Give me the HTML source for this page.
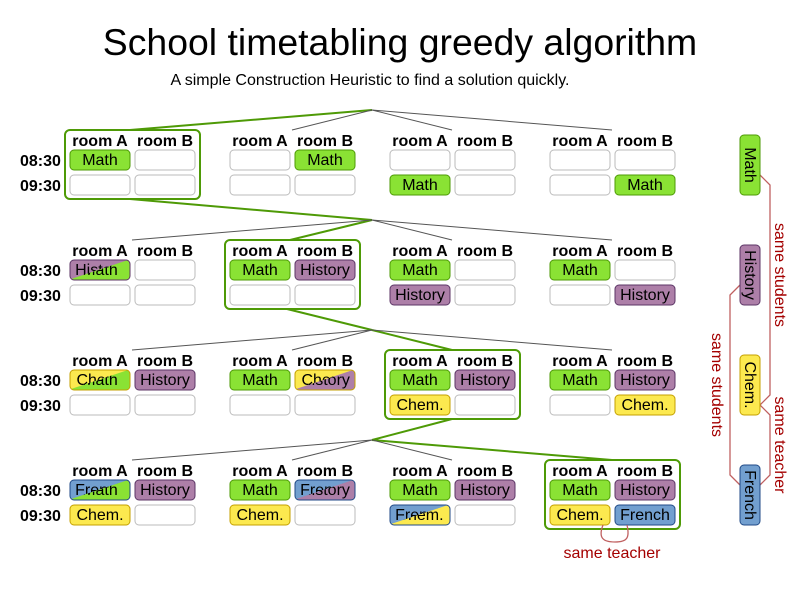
<!DOCTYPE html>
<html><head><meta charset="utf-8"><style>
html,body{margin:0;padding:0;background:#fff}
svg{display:block;font-family:"Liberation Sans",sans-serif}
.h{font-weight:bold;font-size:16px;text-anchor:middle}
.t{font-weight:bold;font-size:16px}
.c{font-size:16px;text-anchor:middle}
.e{fill:#fff;stroke:#bbb}
.m{fill:#8ae234;stroke:#4e9a06}
.hi{fill:#ad7fa8;stroke:#5c3566}
.ch{fill:#fce94f;stroke:#c4a000}
.fr{fill:#729fcf;stroke:#204a87}
.sel{fill:none;stroke:#4e9a06;stroke-width:2}
.gl{stroke:#4e9a06;stroke-width:2}
.gr{stroke:#555;stroke-width:1}
.red{fill:none;stroke:#c06060;stroke-width:1.3}
.rt{fill:#a40000;font-size:16px}
</style></head><body>
<svg width="800" height="600" viewBox="0 0 800 600">
<defs>
<clipPath id="tl"><polygon points="0,0 60,0 0,20"/></clipPath>
<clipPath id="br"><polygon points="60,0 60,20 0,20"/></clipPath>
</defs>
<text x="400" y="55" font-size="37.4" text-anchor="middle">School timetabling greedy algorithm</text>
<text x="370" y="85" font-size="16" text-anchor="middle">A simple Construction Heuristic to find a solution quickly.</text>

<line class="gl" x1="372" y1="110" x2="130" y2="130"/>
<line class="gr" x1="372" y1="110" x2="292" y2="130"/>
<line class="gr" x1="372" y1="110" x2="452" y2="130"/>
<line class="gr" x1="372" y1="110" x2="612" y2="130"/>
<line class="gl" x1="130" y1="199" x2="372" y2="220"/>
<line class="gl" x1="372" y1="220" x2="290" y2="240"/>
<line class="gr" x1="372" y1="220" x2="132" y2="240"/>
<line class="gr" x1="372" y1="220" x2="452" y2="240"/>
<line class="gr" x1="372" y1="220" x2="612" y2="240"/>
<line class="gl" x1="287" y1="309" x2="372" y2="330"/>
<line class="gl" x1="372" y1="330" x2="452" y2="350"/>
<line class="gr" x1="372" y1="330" x2="132" y2="350"/>
<line class="gr" x1="372" y1="330" x2="292" y2="350"/>
<line class="gr" x1="372" y1="330" x2="612" y2="350"/>
<line class="gl" x1="452" y1="419" x2="372" y2="440"/>
<line class="gl" x1="372" y1="440" x2="612" y2="460"/>
<line class="gr" x1="372" y1="440" x2="132" y2="460"/>
<line class="gr" x1="372" y1="440" x2="292" y2="460"/>
<line class="gr" x1="372" y1="440" x2="452" y2="460"/>

<rect class="sel" x="65" y="130" width="135" height="69" rx="5"/>
<rect class="sel" x="225" y="240" width="135" height="69" rx="5"/>
<rect class="sel" x="385" y="350" width="135" height="69" rx="5"/>
<rect class="sel" x="545" y="460" width="135" height="69" rx="5"/>

<g class="h">
<text x="100" y="146">room A</text><text x="165" y="146">room B</text>
<text x="260" y="146">room A</text><text x="325" y="146">room B</text>
<text x="420" y="146">room A</text><text x="485" y="146">room B</text>
<text x="580" y="146">room A</text><text x="645" y="146">room B</text>
<text x="100" y="256">room A</text><text x="165" y="256">room B</text>
<text x="260" y="256">room A</text><text x="325" y="256">room B</text>
<text x="420" y="256">room A</text><text x="485" y="256">room B</text>
<text x="580" y="256">room A</text><text x="645" y="256">room B</text>
<text x="100" y="366">room A</text><text x="165" y="366">room B</text>
<text x="260" y="366">room A</text><text x="325" y="366">room B</text>
<text x="420" y="366">room A</text><text x="485" y="366">room B</text>
<text x="580" y="366">room A</text><text x="645" y="366">room B</text>
<text x="100" y="476">room A</text><text x="165" y="476">room B</text>
<text x="260" y="476">room A</text><text x="325" y="476">room B</text>
<text x="420" y="476">room A</text><text x="485" y="476">room B</text>
<text x="580" y="476">room A</text><text x="645" y="476">room B</text>
</g>
<g class="t">
<text x="20" y="166">08:30</text><text x="20" y="191">09:30</text>
<text x="20" y="276">08:30</text><text x="20" y="301">09:30</text>
<text x="20" y="386">08:30</text><text x="20" y="411">09:30</text>
<text x="20" y="496">08:30</text><text x="20" y="521">09:30</text>
</g>

<rect class="m" x="70" y="150" width="60" height="20" rx="4"/><text class="c" x="100" y="165">Math</text>
<rect class="e" x="135" y="150" width="60" height="20" rx="4"/>
<rect class="e" x="70" y="175" width="60" height="20" rx="4"/>
<rect class="e" x="135" y="175" width="60" height="20" rx="4"/>
<rect class="e" x="230" y="150" width="60" height="20" rx="4"/>
<rect class="m" x="295" y="150" width="60" height="20" rx="4"/><text class="c" x="325" y="165">Math</text>
<rect class="e" x="230" y="175" width="60" height="20" rx="4"/>
<rect class="e" x="295" y="175" width="60" height="20" rx="4"/>
<rect class="e" x="390" y="150" width="60" height="20" rx="4"/>
<rect class="e" x="455" y="150" width="60" height="20" rx="4"/>
<rect class="m" x="390" y="175" width="60" height="20" rx="4"/><text class="c" x="420" y="190">Math</text>
<rect class="e" x="455" y="175" width="60" height="20" rx="4"/>
<rect class="e" x="550" y="150" width="60" height="20" rx="4"/>
<rect class="e" x="615" y="150" width="60" height="20" rx="4"/>
<rect class="e" x="550" y="175" width="60" height="20" rx="4"/>
<rect class="m" x="615" y="175" width="60" height="20" rx="4"/><text class="c" x="645" y="190">Math</text>

<svg x="69.5" y="259.5" width="61" height="21" overflow="visible">
<rect x="0.5" y="0.5" width="60" height="20" rx="4" fill="#8ae234"/>
<rect x="0.5" y="0.5" width="60" height="20" rx="4" fill="#ad7fa8" clip-path="url(#tl)"/>
<rect x="0.5" y="0.5" width="60" height="20" rx="4" fill="none" stroke="#5c3566"/>
<text class="c" x="30.5" y="15.5" clip-path="url(#tl)">History</text>
<text class="c" x="30.5" y="15.5" clip-path="url(#br)">Math</text>
</svg>
<rect class="e" x="135" y="260" width="60" height="20" rx="4"/>
<rect class="e" x="70" y="285" width="60" height="20" rx="4"/>
<rect class="e" x="135" y="285" width="60" height="20" rx="4"/>
<rect class="m" x="230" y="260" width="60" height="20" rx="4"/><text class="c" x="260" y="275">Math</text>
<rect class="hi" x="295" y="260" width="60" height="20" rx="4"/><text class="c" x="325" y="275">History</text>
<rect class="e" x="230" y="285" width="60" height="20" rx="4"/>
<rect class="e" x="295" y="285" width="60" height="20" rx="4"/>
<rect class="m" x="390" y="260" width="60" height="20" rx="4"/><text class="c" x="420" y="275">Math</text>
<rect class="e" x="455" y="260" width="60" height="20" rx="4"/>
<rect class="hi" x="390" y="285" width="60" height="20" rx="4"/><text class="c" x="420" y="300">History</text>
<rect class="e" x="455" y="285" width="60" height="20" rx="4"/>
<rect class="m" x="550" y="260" width="60" height="20" rx="4"/><text class="c" x="580" y="275">Math</text>
<rect class="e" x="615" y="260" width="60" height="20" rx="4"/>
<rect class="e" x="550" y="285" width="60" height="20" rx="4"/>
<rect class="hi" x="615" y="285" width="60" height="20" rx="4"/><text class="c" x="645" y="300">History</text>

<svg x="69.5" y="369.5" width="61" height="21" overflow="visible">
<rect x="0.5" y="0.5" width="60" height="20" rx="4" fill="#8ae234"/>
<rect x="0.5" y="0.5" width="60" height="20" rx="4" fill="#fce94f" clip-path="url(#tl)"/>
<rect x="0.5" y="0.5" width="60" height="20" rx="4" fill="none" stroke="#c4a000"/>
<text class="c" x="30.5" y="15.5" clip-path="url(#tl)">Chem.</text>
<text class="c" x="30.5" y="15.5" clip-path="url(#br)">Math</text>
</svg>
<rect class="hi" x="135" y="370" width="60" height="20" rx="4"/><text class="c" x="165" y="385">History</text>
<rect class="e" x="70" y="395" width="60" height="20" rx="4"/>
<rect class="e" x="135" y="395" width="60" height="20" rx="4"/>
<rect class="m" x="230" y="370" width="60" height="20" rx="4"/><text class="c" x="260" y="385">Math</text>
<svg x="294.5" y="369.5" width="61" height="21" overflow="visible">
<rect x="0.5" y="0.5" width="60" height="20" rx="4" fill="#ad7fa8"/>
<rect x="0.5" y="0.5" width="60" height="20" rx="4" fill="#fce94f" clip-path="url(#tl)"/>
<rect x="0.5" y="0.5" width="60" height="20" rx="4" fill="none" stroke="#c4a000"/>
<text class="c" x="30.5" y="15.5" clip-path="url(#tl)">Chem.</text>
<text class="c" x="30.5" y="15.5" clip-path="url(#br)">History</text>
</svg>
<rect class="e" x="230" y="395" width="60" height="20" rx="4"/>
<rect class="e" x="295" y="395" width="60" height="20" rx="4"/>
<rect class="m" x="390" y="370" width="60" height="20" rx="4"/><text class="c" x="420" y="385">Math</text>
<rect class="hi" x="455" y="370" width="60" height="20" rx="4"/><text class="c" x="485" y="385">History</text>
<rect class="ch" x="390" y="395" width="60" height="20" rx="4"/><text class="c" x="420" y="410">Chem.</text>
<rect class="e" x="455" y="395" width="60" height="20" rx="4"/>
<rect class="m" x="550" y="370" width="60" height="20" rx="4"/><text class="c" x="580" y="385">Math</text>
<rect class="hi" x="615" y="370" width="60" height="20" rx="4"/><text class="c" x="645" y="385">History</text>
<rect class="e" x="550" y="395" width="60" height="20" rx="4"/>
<rect class="ch" x="615" y="395" width="60" height="20" rx="4"/><text class="c" x="645" y="410">Chem.</text>

<svg x="69.5" y="479.5" width="61" height="21" overflow="visible">
<rect x="0.5" y="0.5" width="60" height="20" rx="4" fill="#8ae234"/>
<rect x="0.5" y="0.5" width="60" height="20" rx="4" fill="#729fcf" clip-path="url(#tl)"/>
<rect x="0.5" y="0.5" width="60" height="20" rx="4" fill="none" stroke="#204a87"/>
<text class="c" x="30.5" y="15.5" clip-path="url(#tl)">French</text>
<text class="c" x="30.5" y="15.5" clip-path="url(#br)">Math</text>
</svg>
<rect class="hi" x="135" y="480" width="60" height="20" rx="4"/><text class="c" x="165" y="495">History</text>
<rect class="ch" x="70" y="505" width="60" height="20" rx="4"/><text class="c" x="100" y="520">Chem.</text>
<rect class="e" x="135" y="505" width="60" height="20" rx="4"/>
<rect class="m" x="230" y="480" width="60" height="20" rx="4"/><text class="c" x="260" y="495">Math</text>
<svg x="294.5" y="479.5" width="61" height="21" overflow="visible">
<rect x="0.5" y="0.5" width="60" height="20" rx="4" fill="#ad7fa8"/>
<rect x="0.5" y="0.5" width="60" height="20" rx="4" fill="#729fcf" clip-path="url(#tl)"/>
<rect x="0.5" y="0.5" width="60" height="20" rx="4" fill="none" stroke="#204a87"/>
<text class="c" x="30.5" y="15.5" clip-path="url(#tl)">French</text>
<text class="c" x="30.5" y="15.5" clip-path="url(#br)">History</text>
</svg>
<rect class="ch" x="230" y="505" width="60" height="20" rx="4"/><text class="c" x="260" y="520">Chem.</text>
<rect class="e" x="295" y="505" width="60" height="20" rx="4"/>
<rect class="m" x="390" y="480" width="60" height="20" rx="4"/><text class="c" x="420" y="495">Math</text>
<rect class="hi" x="455" y="480" width="60" height="20" rx="4"/><text class="c" x="485" y="495">History</text>
<svg x="389.5" y="504.5" width="61" height="21" overflow="visible">
<rect x="0.5" y="0.5" width="60" height="20" rx="4" fill="#fce94f"/>
<rect x="0.5" y="0.5" width="60" height="20" rx="4" fill="#729fcf" clip-path="url(#tl)"/>
<rect x="0.5" y="0.5" width="60" height="20" rx="4" fill="none" stroke="#204a87"/>
<text class="c" x="30.5" y="15.5" clip-path="url(#tl)">French</text>
<text class="c" x="30.5" y="15.5" clip-path="url(#br)">Chem.</text>
</svg>
<rect class="e" x="455" y="505" width="60" height="20" rx="4"/>
<rect class="m" x="550" y="480" width="60" height="20" rx="4"/><text class="c" x="580" y="495">Math</text>
<rect class="hi" x="615" y="480" width="60" height="20" rx="4"/><text class="c" x="645" y="495">History</text>
<rect class="ch" x="550" y="505" width="60" height="20" rx="4"/><text class="c" x="580" y="520">Chem.</text>
<rect class="fr" x="615" y="505" width="60" height="20" rx="4"/><text class="c" x="645" y="520">French</text>

<path class="red" d="M603,525 C598,538 603,542 615,542 C627,542 630,538 627,525"/>
<text class="rt" x="612" y="558" text-anchor="middle">same teacher</text>

<path class="red" d="M760,175 L770,185 L770,395 L760,405"/>
<path class="red" d="M740,285 L730,295 L730,475 L740,485"/>
<path class="red" d="M760,405 L770,415 L770,475 L760,485"/>
<rect class="m" x="740" y="135" width="20" height="60" rx="4"/>
<rect class="hi" x="740" y="245" width="20" height="60" rx="4"/>
<rect class="ch" x="740" y="355" width="20" height="60" rx="4"/>
<rect class="fr" x="740" y="465" width="20" height="60" rx="4"/>
<text class="c" transform="translate(745,165) rotate(90)">Math</text>
<text class="c" transform="translate(745,275) rotate(90)">History</text>
<text class="c" transform="translate(745,385) rotate(90)">Chem.</text>
<text class="c" transform="translate(745,495) rotate(90)">French</text>
<text class="rt" text-anchor="middle" transform="translate(775,275) rotate(90)">same students</text>
<text class="rt" text-anchor="middle" transform="translate(712,385) rotate(90)">same students</text>
<text class="rt" text-anchor="middle" transform="translate(775,445) rotate(90)">same teacher</text>
</svg>
</body></html>
